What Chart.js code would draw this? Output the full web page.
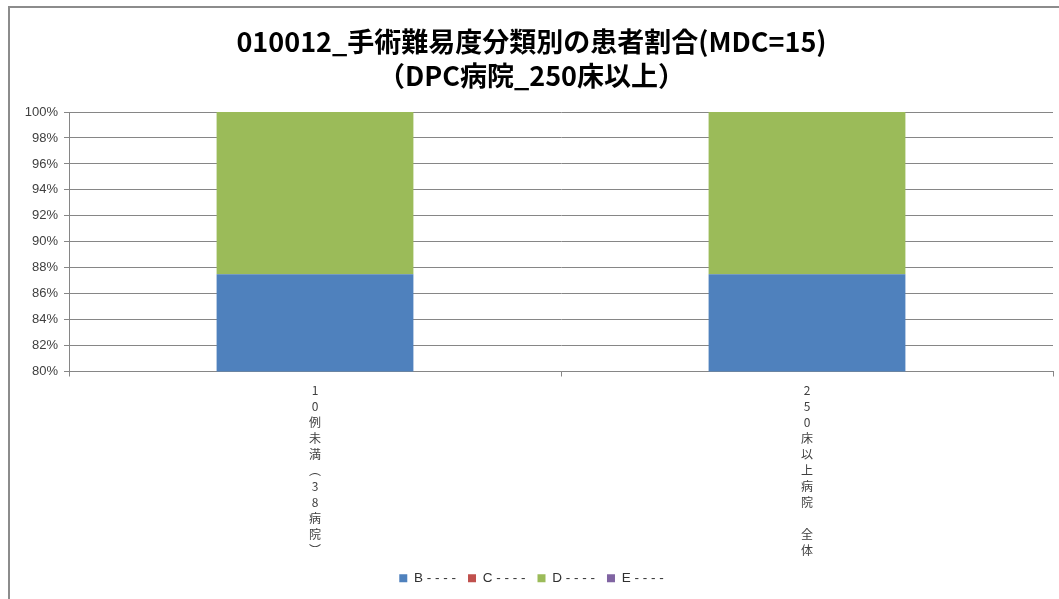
<!DOCTYPE html>
<html lang="ja">
<head>
<meta charset="utf-8">
<title>手術難易度分類別の患者割合</title>
<script src="https://cdn.jsdelivr.net/npm/chart.js@4"></script>
<style>
    html, body { margin: 0; padding: 0; background: #fff; overflow: hidden; }
    #wrap { position: relative; width: 1059px; height: 599px; overflow: hidden; }
    #frame {
        position: absolute; left: 8px; top: 6px;
        width: 1100px; height: 700px;
        border-left: 2px solid #8c8c8c; border-top: 2px solid #8c8c8c;
    }
    #chart { position: absolute; left: 0; top: 0; }
</style>
</head>
<body>
<div id="wrap">
    <div id="frame"></div>
    <canvas id="chart" width="1059" height="599"></canvas>
</div>
<script>
const categories = ['10例未満（38病院）', '250床以上病院　全体'];
const seriesNames = ['B - - - -', 'C - - - -', 'D - - - -', 'E - - - -'];
const seriesB = [87.5, 87.5];
const seriesC = [0, 0];
const seriesD = [12.5, 12.5];
const seriesE = [0, 0];
const yTicks = [80, 82, 84, 86, 88, 90, 92, 94, 96, 98, 100];

const colors = ['#4f81bd', '#c0504d', '#9bbb59', '#8064a2'];

// labels are written top-to-bottom, one character per line
const verticalForms = { '（': '︵', '）': '︶' };
function verticalLabel(text) {
    return Array.from(text).map(ch => verticalForms[ch] || ch);
}

const jpFont = "'Noto Sans CJK JP', 'Liberation Sans', sans-serif";

const ctx = document.getElementById('chart').getContext('2d');
const chart = new Chart(ctx, {
    type: 'bar',
    data: {
        labels: categories.map(verticalLabel),
        datasets: [seriesB, seriesC, seriesD, seriesE].map((values, i) => ({
            label: seriesNames[i],
            data: values,
            backgroundColor: colors[i],
            borderWidth: 0,
            categoryPercentage: 1,
            barPercentage: 0.4
        }))
    },
    options: {
        responsive: false,
        animation: false,
        devicePixelRatio: 1,
        layout: { padding: { left: 10, right: 6, top: 0, bottom: 4 } },
        plugins: {
            title: {
                display: true,
                text: ['010012_手術難易度分類別の患者割合(MDC=15)', '（DPC病院_250床以上）'],
                color: '#000',
                font: { family: jpFont, size: 27, weight: 'bold', lineHeight: 1.26 },
                padding: { top: 25, bottom: 19 }
            },
            legend: {
                position: 'bottom',
                labels: {
                    boxWidth: 8,
                    boxHeight: 8,
                    color: '#303030',
                    padding: 12,
                    font: { family: "'Liberation Sans', sans-serif", size: 13.5 }
                }
            },
            tooltip: { enabled: false }
        },
        scales: {
            x: {
                stacked: true,
                grid: {
                    offset: true,
                    drawOnChartArea: false,
                    drawTicks: true,
                    tickLength: 5,
                    color: '#868686'
                },
                border: { color: '#868686', width: 1 },
                ticks: {
                    color: '#404040',
                    maxRotation: 0,
                    autoSkip: false,
                    padding: 6,
                    font: { family: jpFont, size: 12, lineHeight: '16px' }
                },
                afterFit: scale => { scale.height = 188; }
            },
            y: {
                stacked: true,
                min: 80,
                max: 100,
                afterBuildTicks: scale => {
                    scale.ticks = yTicks.map(v => ({ value: v }));
                },
                grid: { color: '#868686', tickLength: 5, lineWidth: 1 },
                border: { color: '#868686', width: 1 },
                ticks: {
                    color: '#404040',
                    padding: 6,
                    font: { family: "'Liberation Sans', sans-serif", size: 13 },
                    callback: v => v + '%'
                },
                afterFit: scale => { scale.width = 59; }
            }
        }
    }
});
</script>
</body>
</html>
